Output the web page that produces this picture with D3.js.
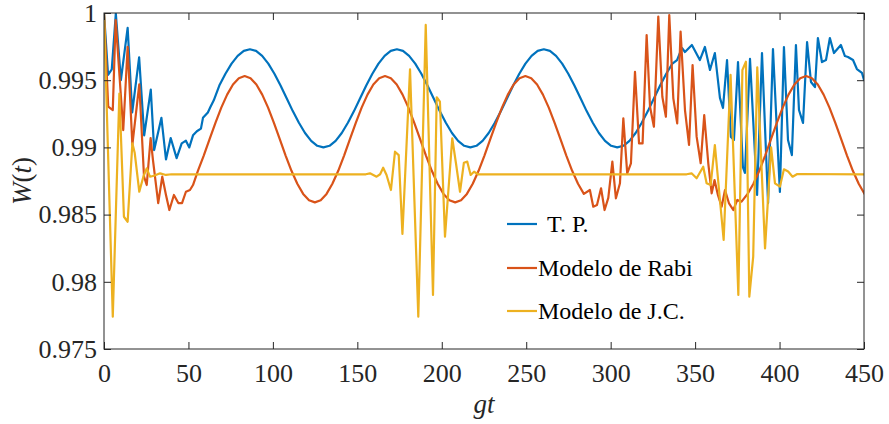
<!DOCTYPE html>
<html>
<head>
<meta charset="utf-8">
<script src="https://cdn.jsdelivr.net/npm/d3@7"></script>
<style>
  html, body { margin: 0; padding: 0; background: #fff; }
  svg { display: block; }
  svg text { font-family: "Liberation Serif", "Times New Roman", serif; }
</style>
</head>
<body>
<svg id="chart" width="889" height="424"></svg>
<script>
// ---- axis ticks ----
const xTicks = [0, 50, 100, 150, 200, 250, 300, 350, 400, 450];
const yTicks = [0.975, 0.98, 0.985, 0.99, 0.995, 1];
const yTickLabels = ["0.975", "0.98", "0.985", "0.99", "0.995", "1"];
const seriesNames = ["T. P.", "Modelo de Rabi", "Modelo de J.C."];

// ---- T. P. : [gt, W] ----
const tpHead = [
  [0, 1.0], [2.4, 0.99540], [4.6, 0.99580], [7.0, 0.99995], [10.0, 0.99500],
  [14.0, 0.99890], [16.7, 0.99260], [20.8, 0.99670], [23.8, 0.99090], [27.7, 0.99430],
  [29.7, 0.98980], [34.0, 0.99220], [36.7, 0.98910], [39.5, 0.99070], [43.0, 0.98920],
  [46.0, 0.99030], [48.5, 0.99050], [50.5, 0.99000], [52.7, 0.99090], [55.0, 0.99120],
  [57.4, 0.99140], [58.6, 0.99220], [61.5, 0.99260], [63.0, 0.99300], [65.0, 0.99350]
];
// regular part, sampled every tpWaveStep from tpWaveStart
const tpWaveStart = 68.28;
const tpWaveStep = 3.625;
const tpWave = [
  0.99460, 0.99548, 0.99623, 0.99681, 0.99718, 0.99730, 0.99718, 0.99681, 0.99623, 0.99548, 0.99460, 0.99365,
  0.99270, 0.99183, 0.99107, 0.99049, 0.99012, 0.99000, 0.99012, 0.99049, 0.99107, 0.99183, 0.99270, 0.99365,
  0.99460, 0.99548, 0.99623, 0.99681, 0.99718, 0.99730, 0.99718, 0.99681, 0.99623, 0.99548, 0.99460, 0.99365,
  0.99270, 0.99183, 0.99107, 0.99049, 0.99012, 0.99000, 0.99012, 0.99049, 0.99107, 0.99183, 0.99270, 0.99365,
  0.99460, 0.99548, 0.99623, 0.99681, 0.99718, 0.99730, 0.99718, 0.99681, 0.99623, 0.99548, 0.99460, 0.99365,
  0.99270, 0.99183, 0.99107, 0.99049, 0.99012, 0.99000, 0.99012, 0.99049, 0.99107, 0.99183, 0.99270, 0.99365,
  0.99460, 0.99548, 0.99623
];
const tpTail = [
  [339.3, 0.99650], [342.2, 0.99740], [344.0, 0.99710], [348.1, 0.99762], [352.8, 0.99650],
  [355.8, 0.99747], [358.8, 0.99576], [361.7, 0.99702], [364.7, 0.99368], [366.5, 0.99293],
  [368.9, 0.99650], [371.2, 0.99077], [373.0, 0.99055], [375.4, 0.99635], [378.3, 0.98854],
  [379.5, 0.98810], [382.5, 0.99658], [386.7, 0.98646], [389.6, 0.99702], [393.2, 0.98586],
  [396.1, 0.99732], [400.2, 0.98668], [402.6, 0.99747], [405.0, 0.99055], [407.3, 0.98943],
  [409.7, 0.99762], [411.5, 0.99278], [413.9, 0.99182], [416.3, 0.99784], [418.6, 0.99487],
  [421.0, 0.99449], [422.7, 0.99814], [425.1, 0.99635], [427.5, 0.99650], [429.8, 0.99814],
  [432.2, 0.99702], [436.3, 0.99762], [438.7, 0.99680], [440.5, 0.99673], [443.5, 0.99650],
  [445.8, 0.99583], [448.8, 0.99554], [450.0, 0.99501]
];

// ---- Modelo de Rabi ----
const rabiHead = [
  [0, 1.0], [2.5, 0.99303], [5.2, 0.99278], [6.9, 0.99948], [11.4, 0.99129],
  [14.0, 0.99749], [16.8, 0.99018], [20.9, 0.99470], [23.7, 0.98782], [25.3, 0.98720],
  [27.6, 0.99070], [29.0, 0.98906], [32.1, 0.98586], [34.5, 0.98782], [36.7, 0.98646],
  [38.7, 0.98534], [41.4, 0.98646], [44.0, 0.98586], [46.2, 0.98586], [48.5, 0.98670],
  [50.9, 0.98683], [52.7, 0.98720]
];
const rabiStep = 3.4625;
const rabiWave1Start = 55.6;
const rabiWave1 = [
  0.98826, 0.98939, 0.99061, 0.99183, 0.99296, 0.99393, 0.99468, 0.99515, 0.99531, 0.99515, 0.99468, 0.99393,
  0.99296, 0.99183, 0.99061, 0.98939, 0.98826, 0.98729, 0.98654, 0.98607, 0.98591, 0.98607, 0.98654, 0.98729,
  0.98826, 0.98939, 0.99061, 0.99183, 0.99296, 0.99393, 0.99468, 0.99515, 0.99531, 0.99515, 0.99468, 0.99393,
  0.99296, 0.99183, 0.99061, 0.98939, 0.98826, 0.98729, 0.98654, 0.98607, 0.98591, 0.98607, 0.98654, 0.98729,
  0.98826, 0.98939, 0.99061, 0.99183, 0.99296, 0.99393, 0.99468, 0.99515, 0.99531, 0.99515, 0.99468, 0.99393,
  0.99296, 0.99183, 0.99061, 0.98939, 0.98826, 0.98729, 0.98654
];
const rabiMid = [
  [287.7, 0.98683], [289.7, 0.98559], [291.9, 0.98571], [294.3, 0.98696], [296.4, 0.98534],
  [298.6, 0.98624], [301.0, 0.98894], [303.1, 0.98621], [305.5, 0.98733], [307.5, 0.99216],
  [309.8, 0.98807], [312.0, 0.98882], [314.4, 0.99563], [316.8, 0.99030], [318.9, 0.99030],
  [321.3, 0.99836], [323.3, 0.99303], [325.6, 0.99154], [328.2, 0.99973], [330.6, 0.99377],
  [332.7, 0.99228], [334.7, 0.99985], [337.1, 0.99365], [339.4, 0.99179], [341.4, 0.99861],
  [344.0, 0.99278], [346.4, 0.99018], [348.5, 0.99613], [350.9, 0.99080], [353.3, 0.98882],
  [355.4, 0.99240], [357.8, 0.98882], [359.8, 0.98658], [361.5, 0.98757], [363.5, 0.98646],
  [365.7, 0.98559], [367.7, 0.98683], [370.0, 0.98586], [372.6, 0.98534], [375.0, 0.98609],
  [377.5, 0.98596]
];
const rabiWave2Start = 381.08;
const rabiWave2 = [
  0.98654, 0.98729, 0.98826, 0.98939, 0.99061, 0.99183, 0.99296, 0.99393, 0.99468, 0.99515, 0.99531,
  0.99515, 0.99468, 0.99393, 0.99296, 0.99183, 0.99061, 0.98939, 0.98826, 0.98729, 0.98654
];

// ---- Modelo de J.C. ----
const jcPoints = [
  [0, 1.0], [5.2, 0.97740], [9.1, 0.99400], [11.8, 0.98484], [14.0, 0.98447],
  [16.8, 0.99030], [18.2, 0.98958], [20.9, 0.98670], [23.3, 0.98782], [25.3, 0.98844],
  [27.2, 0.98782], [29.6, 0.98789], [33.2, 0.98807], [36.7, 0.98795], [40.0, 0.98800],
  [155.0, 0.98800], [157.5, 0.98807], [161.4, 0.98782], [163.5, 0.98800], [165.3, 0.98849],
  [167.3, 0.98795], [169.9, 0.98683], [172.3, 0.98968], [174.5, 0.98943], [176.7, 0.98356],
  [181.2, 0.99581], [186.1, 0.97740], [190.5, 0.99911], [194.8, 0.97902], [197.0, 0.99373],
  [198.9, 0.99340], [201.9, 0.98336], [206.2, 0.99068], [208.4, 0.98882], [210.8, 0.98670],
  [213.1, 0.98886], [215.1, 0.98894], [217.1, 0.98795], [219.1, 0.98819], [221.5, 0.98800],
  [345.0, 0.98800], [347.9, 0.98807], [350.9, 0.98770], [354.8, 0.98856], [356.8, 0.98733],
  [359.2, 0.98720], [361.7, 0.99018], [366.9, 0.98311], [371.0, 0.99539], [375.6, 0.97902],
  [378.0, 0.99576], [380.1, 0.99638], [382.1, 0.97889], [384.4, 0.98187], [386.8, 0.99596],
  [391.4, 0.98249], [395.0, 0.99000], [397.3, 0.98733], [400.2, 0.98708], [402.6, 0.98837],
  [405.1, 0.98820], [407.7, 0.98782], [410.5, 0.98802], [450.0, 0.98800]
];

const colors = ["#0072BD", "#D95319", "#EDB120"];

// ---- build series ----
function sampled(start, step, values) {
  return values.map((v, i) => [start + i * step, v]);
}
const series = [
  [...tpHead, ...sampled(tpWaveStart, tpWaveStep, tpWave), ...tpTail],
  [...rabiHead, ...sampled(rabiWave1Start, rabiStep, rabiWave1), ...rabiMid,
   ...sampled(rabiWave2Start, rabiStep, rabiWave2)],
  jcPoints
];

// ---- layout ----
const width = 889, height = 424;
const margin = { top: 13, right: 25, bottom: 75, left: 104 };
const axisColor = "#262626";
const serif = "'Liberation Serif', 'Times New Roman', serif";

const svg = d3.select("#chart");
const x = d3.scaleLinear().domain([0, 450]).range([margin.left, width - margin.right]);
const y = d3.scaleLinear().domain([0.975, 1]).range([height - margin.bottom, margin.top]);

svg.append("defs").append("clipPath").attr("id", "plot-clip")
  .append("rect")
  .attr("x", x(0)).attr("y", y(1))
  .attr("width", x(450) - x(0)).attr("height", y(0.975) - y(1));

// ---- data lines ----
const line = d3.line().x(d => x(d[0])).y(d => y(d[1]));
const plot = svg.append("g").attr("clip-path", "url(#plot-clip)");
series.forEach((s, i) => {
  plot.append("path")
    .datum(s)
    .attr("d", line)
    .attr("fill", "none")
    .attr("stroke", colors[i])
    .attr("stroke-width", 2.2)
    .attr("stroke-linejoin", "round")
    .attr("stroke-linecap", "round");
});

// ---- axes (ticks pointing inward, full box) ----
function styleAxis(g) {
  g.attr("font-family", serif).attr("font-size", 26);
  g.select(".domain").remove();
  g.selectAll(".tick line").attr("stroke", axisColor).attr("stroke-width", 1);
  g.selectAll(".tick text").attr("fill", axisColor);
}

svg.append("g")
  .attr("transform", `translate(0,${y(0.975)})`)
  .call(d3.axisBottom(x).tickValues(xTicks).tickSize(-7).tickPadding(15).tickFormat(d3.format("d")))
  .call(styleAxis);

svg.append("g")
  .attr("transform", `translate(0,${y(1)})`)
  .call(d3.axisTop(x).tickValues(xTicks).tickSize(-7).tickFormat(""))
  .call(styleAxis);

svg.append("g")
  .attr("transform", `translate(${x(0)},0)`)
  .call(d3.axisLeft(y).tickValues(yTicks).tickSize(-7).tickPadding(7)
    .tickFormat((d, i) => yTickLabels[i]))
  .call(styleAxis);

svg.append("g")
  .attr("transform", `translate(${x(450)},0)`)
  .call(d3.axisRight(y).tickValues(yTicks).tickSize(-7).tickFormat(""))
  .call(styleAxis);

svg.append("rect")
  .attr("x", x(0)).attr("y", y(1))
  .attr("width", x(450) - x(0)).attr("height", y(0.975) - y(1))
  .attr("fill", "none").attr("stroke", axisColor).attr("stroke-width", 1);

// ---- axis titles ----
svg.append("text")
  .attr("x", (x(0) + x(450)) / 2).attr("y", 413)
  .attr("text-anchor", "middle").attr("font-size", 27).attr("fill", axisColor)
  .attr("font-family", serif)
  .attr("font-style", "italic").text("gt");

const yTitle = svg.append("text")
  .attr("transform", `translate(31,${(y(0.975) + y(1)) / 2}) rotate(-90)`)
  .attr("text-anchor", "middle").attr("font-size", 27).attr("fill", axisColor)
  .attr("font-family", serif);
yTitle.append("tspan").attr("font-style", "italic").text("W");
yTitle.append("tspan").text("(");
yTitle.append("tspan").attr("font-style", "italic").text("t");
yTitle.append("tspan").text(")");

// ---- legend ----
const legendRows = [224, 268, 311];
const legendTextX = [547, 538, 538];
const legend = svg.append("g").attr("font-family", serif);
seriesNames.forEach((name, i) => {
  legend.append("line")
    .attr("x1", 507).attr("x2", 537)
    .attr("y1", legendRows[i]).attr("y2", legendRows[i])
    .attr("stroke", colors[i]).attr("stroke-width", 2.2);
  legend.append("text")
    .attr("x", legendTextX[i]).attr("y", legendRows[i])
    .attr("dy", "0.33em")
    .attr("font-size", 24).attr("fill", "#000")
    .text(name);
});
</script>
</body>
</html>
